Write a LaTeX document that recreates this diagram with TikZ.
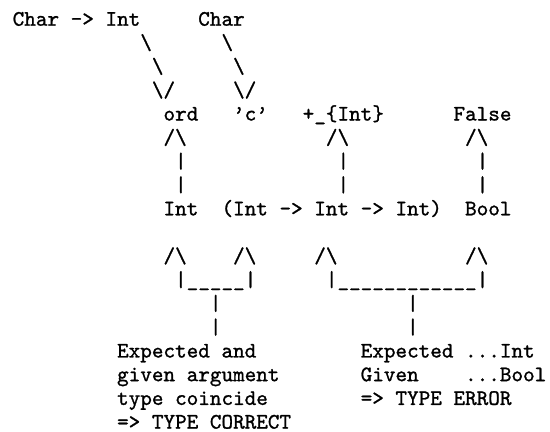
\documentclass[tikz,border=0pt]{standalone}
\usepackage{fontspec}
\newfontfamily\asciifont{Latin Modern Mono}[FakeBold=1.1]
\newcommand\putrun[4]{\node[txt] (#1) at ({12.7+11.6*(#2)},{25.7+23.7*(#3)}) {#4};}
\begin{document}
\begin{tikzpicture}[x=0.45259pt,y=-0.45259pt,
  txt/.style={anchor=base west,inner sep=0pt,outer sep=0pt,text=black,
    font=\fontsize{10pt}{12pt}\selectfont\asciifont}]
\useasboundingbox (0,0) rectangle (550,432);
% row 0
\putrun{ci}{0}{0}{Char -> Int}
\putrun{ch}{16}{0}{Char}
% rows 1-3: arrows down
\putrun{a1}{11}{1}{\textbackslash}
\putrun{b1}{18}{1}{\textbackslash}
\putrun{a2}{12}{2}{\textbackslash}
\putrun{b2}{19}{2}{\textbackslash}
\putrun{a3}{12}{3}{\textbackslash/}
\putrun{b3}{19}{3}{\textbackslash/}
% row 4
\putrun{ord}{13}{4}{ord}
\putrun{c}{19}{4}{’c’}
\putrun{plus}{25}{4}{+\_\{Int\}}
\putrun{false}{38}{4}{False}
% row 5-7
\putrun{u1}{13}{5}{/\textbackslash}
\putrun{u2}{27}{5}{/\textbackslash}
\putrun{u3}{39}{5}{/\textbackslash}
\putrun{v1a}{14}{6}{|}
\putrun{v2a}{28}{6}{|}
\putrun{v3a}{40}{6}{|}
\putrun{v1b}{14}{7}{|}
\putrun{v2b}{28}{7}{|}
\putrun{v3b}{40}{7}{|}
% row 8
\putrun{int}{13}{8}{Int}
\putrun{fun}{18}{8}{(Int -> Int -> Int)}
\putrun{bool}{39}{8}{Bool}
% row 10-11
\putrun{w1}{13}{10}{/\textbackslash}
\putrun{w2}{19}{10}{/\textbackslash}
\putrun{w3}{26}{10}{/\textbackslash}
\putrun{w4}{39}{10}{/\textbackslash}
\putrun{bl}{14}{11}{|\_\_\_\_\_|}
\putrun{br}{27}{11}{|\_\_\_\_\_\_\_\_\_\_\_\_|}
% row 12-13
\putrun{sl1}{17}{12}{|}
\putrun{sr1}{34}{12}{|}
\putrun{sl2}{17}{13}{|}
\putrun{sr2}{34}{13}{|}
% rows 14-17
\putrun{l1}{9}{14}{Expected and}
\putrun{l2}{9}{15}{given argument}
\putrun{l3}{9}{16}{type coincide}
\putrun{l4}{9}{17}{=> TYPE CORRECT}
\putrun{r1}{30}{14}{Expected ...Int}
\putrun{r2}{30}{15}{Given}
\putrun{r2b}{39}{15}{...Bool}
\putrun{r3}{30}{16}{=> TYPE ERROR}
\end{tikzpicture}
\end{document}
